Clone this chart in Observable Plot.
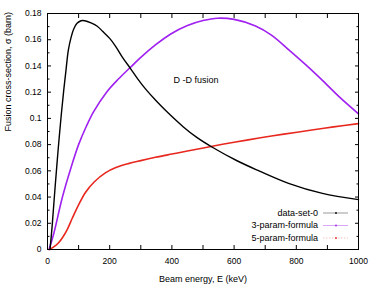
<!DOCTYPE html>
<html>
<head>
<meta charset="utf-8">
<script src="https://cdn.jsdelivr.net/npm/d3@7"></script>
<script src="https://cdn.jsdelivr.net/npm/@observablehq/plot@0.6"></script>
<style>
  html, body { margin: 0; padding: 0; background: #fff; }
</style>
</head>
<body>
<div id="chart"></div>
<script>
// ---- data ----
const dataSetE = [8, 15, 22, 30, 36, 44, 52, 60, 67, 76, 84, 95, 108, 120, 140, 160, 177, 200, 219, 240, 267, 290, 315, 347, 380, 437, 480, 530, 611, 680, 775, 884, 1000];
const dataSetS = [0, 0.018, 0.040, 0.064, 0.081, 0.102, 0.121, 0.138, 0.152, 0.162, 0.168, 0.1725, 0.1745, 0.1745, 0.1728, 0.1703, 0.1665, 0.1610, 0.1550, 0.1470, 0.1380, 0.1302, 0.1225, 0.1140, 0.1060, 0.0935, 0.0855, 0.0780, 0.0675, 0.0600, 0.0505, 0.0428, 0.0380];

const param3E = [5, 20, 48, 75, 100, 125, 148, 190, 228, 267, 300, 347, 395, 450, 500, 547, 600, 669, 720, 775, 830, 884, 940, 1000];
const param3S = [0, 0.012, 0.040, 0.062, 0.080, 0.094, 0.105, 0.1200, 0.1300, 0.1390, 0.1465, 0.1560, 0.1642, 0.1708, 0.1746, 0.1764, 0.1755, 0.1705, 0.1635, 0.1525, 0.1410, 0.1290, 0.1160, 0.1035];

const param5E = [5, 20, 35, 48, 65, 80, 100, 122, 150, 186, 220, 260, 300, 347, 400, 450, 530, 600, 685, 760, 850, 920, 1000];
const param5S = [0, 0.002, 0.005, 0.009, 0.016, 0.024, 0.034, 0.0435, 0.0515, 0.0585, 0.0625, 0.0655, 0.0678, 0.0703, 0.0728, 0.0751, 0.0788, 0.0818, 0.0852, 0.0880, 0.0911, 0.0935, 0.0960];

const seriesNames = ["data-set-0", "3-param-formula", "5-param-formula"];
const xTickLabels = [0, 200, 400, 600, 800, 1000];
const xTickAll = [0, 100, 200, 300, 400, 500, 600, 700, 800, 900, 1000];
const yTickLabels = [0, 0.02, 0.04, 0.06, 0.08, 0.1, 0.12, 0.14, 0.16, 0.18];
const yTickMinor = [0.01, 0.03, 0.05, 0.07, 0.09, 0.11, 0.13, 0.15, 0.17];
const annotation = [{E: 405, s: 0.129, text: "D -D fusion"}];

// ---- build tables ----
const toRows = (es, ss) => es.map((E, i) => ({E, s: ss[i]}));
const black = toRows(dataSetE, dataSetS);
const purple = toRows(param3E, param3S);
const red = toRows(param5E, param5S);

const colors = ["#000000", "#a020f0", "#e8281e"];
const fmtY = d => String(+d.toFixed(2));

const W = 374, H = 291, mL = 47, mR = 16, mT = 13, mB = 42;

const svg = Plot.plot({
  width: W, height: H,
  marginLeft: mL, marginRight: mR, marginTop: mT, marginBottom: mB,
  x: {domain: [0, 1000]},
  y: {domain: [0, 0.18]},
  style: {fontFamily: "'Liberation Sans', Arial, sans-serif", fontSize: "8.5px", background: "#fff", color: "#000"},
  marks: [
    Plot.axisX({ticks: xTickLabels, tickSize: 0, tickPadding: 8, tickFormat: d => String(d), label: null}),
    Plot.axisX({ticks: xTickAll, tickSize: -4, tickFormat: () => "", label: null}),
    Plot.axisX({anchor: "top", ticks: xTickAll, tickSize: -4, tickFormat: () => "", label: null}),
    Plot.axisY({ticks: yTickLabels, tickSize: 0, tickPadding: 6, tickFormat: fmtY, label: null}),
    Plot.axisY({ticks: yTickLabels, tickSize: -4, tickFormat: () => "", label: null}),
    Plot.axisY({ticks: yTickMinor, tickSize: -2.5, tickFormat: () => "", label: null}),
    Plot.axisY({anchor: "right", ticks: yTickLabels, tickSize: -4, tickFormat: () => "", label: null}),
    Plot.axisY({anchor: "right", ticks: yTickMinor, tickSize: -2.5, tickFormat: () => "", label: null}),
    Plot.line(purple, {x: "E", y: "s", stroke: colors[1], strokeWidth: 1.6, curve: "catmull-rom"}),
    Plot.line(red, {x: "E", y: "s", stroke: colors[2], strokeWidth: 1.6, curve: "catmull-rom"}),
    Plot.line(black, {x: "E", y: "s", stroke: colors[0], strokeWidth: 1.4, curve: "catmull-rom"}),
    Plot.text(annotation, {x: "E", y: "s", text: "text", textAnchor: "start", fontSize: 9}),
    Plot.text(["Beam energy, E (keV)"], {frameAnchor: "bottom", dy: 32, fontSize: 9}),
    Plot.text(["Fusion cross-section, σ (barn)"], {frameAnchor: "left", dx: -39, rotate: -90, fontSize: 9}),
    Plot.frame({stroke: "#000", strokeWidth: 1})
  ]
});

// ---- legend (inside the plot, lower right) ----
const legendSamples = [
  {line: "#9a9a9a", dash: null, dot: colors[0]},
  {line: "#dba8f7", dash: null, dot: colors[1]},
  {line: "#f7c4c0", dash: "1.5,1.5", dot: colors[2]}
];
const right = W - mR, bottom = H - mB;
const g = d3.select(svg).append("g")
  .attr("font-family", "'Liberation Sans', Arial, sans-serif")
  .attr("font-size", 9);
seriesNames.forEach((name, i) => {
  const y = bottom - 36 + i * 12.5;
  g.append("text").attr("x", right - 40).attr("y", y).attr("dy", "0.32em")
    .attr("text-anchor", "end").attr("fill", "#000").text(name);
  g.append("line").attr("x1", right - 35).attr("x2", right - 10).attr("y1", y).attr("y2", y)
    .attr("stroke", legendSamples[i].line).attr("stroke-width", 1)
    .attr("stroke-dasharray", legendSamples[i].dash);
  g.append("circle").attr("cx", right - 22).attr("cy", y).attr("r", 0.9)
    .attr("fill", legendSamples[i].dot);
});

document.getElementById("chart").appendChild(svg);
</script>
</body>
</html>
